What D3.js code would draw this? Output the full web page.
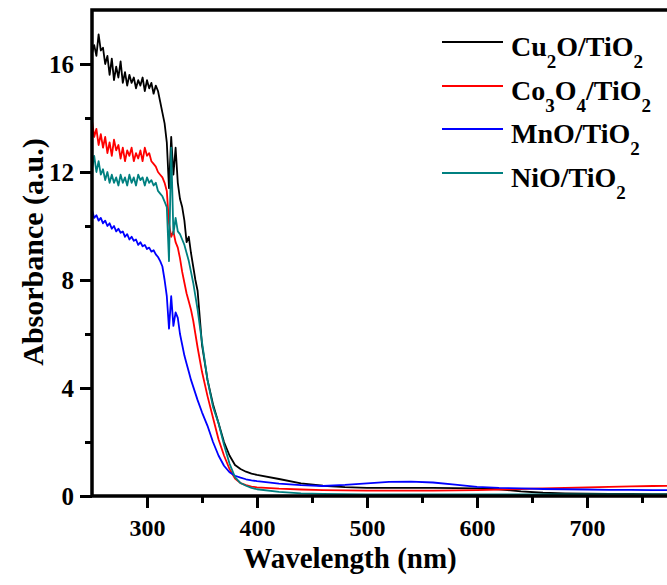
<!DOCTYPE html>
<html>
<head>
<meta charset="utf-8">
<script src="https://cdn.jsdelivr.net/npm/d3@7"></script>
<style>
  body { margin: 0; background: #fff; }
  svg text { font-family: "Liberation Serif", "Times New Roman", serif; font-weight: bold; fill: #000; }
</style>
</head>
<body>
<svg id="chart" width="667" height="585"></svg>
<script>
// wavelength grid (nm), dense in the noisy UV region
const wavelength = [
  250,252,254,256,258,260,262,264,266,268,270,272,274,276,278,280,282,284,286,288,
  290,292,294,296,298,300,302,304,306,308,310,312,314,316,318,320,322,324,326,328,
  330,332,334,336,338,340,342,344,346,
  350,355,360,365,370,375,380,385,390,395,
  400,420,440,460,480,500,520,540,560,580,600,620,640,660,680,700,720,740,760,780,800
];

const cu2o = [
  16.4,16.7,16.3,17.1,16.5,16.6,16.0,16.3,15.6,16.2,15.4,15.9,15.5,16.1,15.3,15.7,15.2,15.6,15.3,15.5,
  15.1,15.4,15.2,15.5,15.0,15.4,15.1,15.3,14.9,15.2,15.0,14.6,14.2,13.8,13.1,11.4,13.3,11.9,12.9,11.6,
  11.0,10.7,10.2,9.4,9.6,9.0,8.5,8.0,7.6,
  5.6,4.3,3.4,2.7,2.0,1.5,1.15,1.0,0.9,0.83,
  0.78,0.63,0.47,0.38,0.33,0.3,0.3,0.3,0.3,0.29,0.28,0.25,0.17,0.12,0.1,0.09,0.08,0.08,0.07,0.07,0.07
];

const co3o4 = [
  13.9,13.3,13.6,13.0,13.4,12.9,13.3,12.7,13.1,12.6,13.2,12.8,13.0,12.5,12.9,12.4,12.8,12.6,12.9,12.4,
  12.7,12.5,12.8,12.4,12.9,12.6,12.7,12.4,12.3,12.2,12.0,11.9,11.8,11.6,11.3,10.1,9.6,9.8,9.4,9.2,
  8.8,8.3,7.9,7.5,7.2,6.9,6.5,6.0,5.5,
  4.6,3.7,2.9,2.1,1.5,1.0,0.65,0.48,0.4,0.35,
  0.32,0.27,0.24,0.22,0.21,0.2,0.2,0.2,0.2,0.21,0.22,0.24,0.26,0.28,0.3,0.32,0.34,0.36,0.37,0.38,0.39
];

const mno = [
  10.6,10.3,10.4,10.2,10.3,10.1,10.2,10.0,10.1,9.9,10.0,9.8,9.9,9.75,9.8,9.6,9.7,9.5,9.6,9.45,
  9.5,9.3,9.4,9.25,9.3,9.15,9.2,9.05,9.1,8.95,8.85,8.7,8.5,8.0,7.4,6.2,7.4,6.3,6.8,6.6,
  6.0,5.6,5.2,4.9,4.6,4.3,4.05,3.8,3.55,
  3.1,2.6,2.0,1.5,1.12,0.88,0.75,0.68,0.62,0.58,
  0.55,0.46,0.4,0.37,0.41,0.47,0.52,0.53,0.5,0.42,0.34,0.3,0.28,0.26,0.25,0.24,0.23,0.23,0.22,0.22,0.22
];

const nio = [
  12.1,12.6,12.0,12.4,11.9,12.1,11.7,12.0,11.6,11.9,11.6,11.8,11.5,11.9,11.6,11.8,11.5,11.9,11.6,11.8,
  11.5,11.9,11.7,11.8,11.5,11.8,11.6,11.7,11.5,11.6,11.3,11.2,11.1,10.9,10.7,8.7,12.9,9.7,10.3,9.8,
  9.7,9.5,9.3,9.0,8.7,8.3,7.9,7.4,6.9,
  5.7,4.3,3.3,2.7,1.9,1.2,0.7,0.48,0.38,0.3,
  0.25,0.15,0.1,0.08,0.07,0.06,0.06,0.06,0.06,0.06,0.06,0.06,0.06,0.06,0.06,0.06,0.06,0.06,0.06,0.06,0.06
];

const seriesNames = ["Cu2O/TiO2", "Co3O4/TiO2", "MnO/TiO2", "NiO/TiO2"];
const seriesColors = ["#000000", "#ff0000", "#0000ff", "#008080"];
const seriesValues = [cu2o, co3o4, mno, nio];

// legend labels split into [text, isSubscript] pieces
const legendParts = [
  [["Cu", 0], ["2", 1], ["O/TiO", 0], ["2", 1]],
  [["Co", 0], ["3", 1], ["O", 0], ["4", 1], ["/TiO", 0], ["2", 1]],
  [["MnO/TiO", 0], ["2", 1]],
  [["NiO/TiO", 0], ["2", 1]]
];

const xMajor = [300, 400, 500, 600, 700];
const xMinor = [350, 450, 550, 650, 750];
const yMajor = [0, 4, 8, 12, 16];
const yMinor = [2, 6, 10, 14];

const svg = d3.select("#chart");

const x = d3.scaleLinear().domain([250, 800]).range([92, 697]);
const y = d3.scaleLinear().domain([0, 18]).range([496, 10]);

// minor ticks
svg.append("g")
   .attr("transform", `translate(0,${y(0)})`)
   .call(d3.axisBottom(x).tickValues(xMinor).tickSize(7).tickFormat(""))
   .call(g => g.select(".domain").remove());
svg.append("g")
   .attr("transform", `translate(${x(250)},0)`)
   .call(d3.axisLeft(y).tickValues(yMinor).tickSize(7).tickFormat(""))
   .call(g => g.select(".domain").remove());

// major ticks
const gx = svg.append("g")
   .attr("transform", `translate(0,${y(0)})`)
   .call(d3.axisBottom(x).tickValues(xMajor).tickSize(12).tickFormat(d3.format("d")))
   .call(g => g.select(".domain").remove());
gx.selectAll("text").attr("y", 40).attr("dy", null).style("font-size", "24px");

const gy = svg.append("g")
   .attr("transform", `translate(${x(250)},0)`)
   .call(d3.axisLeft(y).tickValues(yMajor).tickSize(12).tickFormat(d3.format("d")))
   .call(g => g.select(".domain").remove());
gy.selectAll("text").attr("x", -18).attr("dy", "0.34em").style("font-size", "25px");

svg.selectAll(".tick line").attr("stroke", "#000").attr("stroke-width", 3);

// curves
const line = d3.line()
  .x((d, i) => x(wavelength[i]))
  .y(d => y(d));

seriesValues.forEach((vals, k) => {
  svg.append("path")
     .datum(vals)
     .attr("fill", "none")
     .attr("stroke", seriesColors[k])
     .attr("stroke-width", 1.8)
     .attr("stroke-linejoin", "round")
     .attr("d", line);
});

// frame
svg.append("rect")
   .attr("x", x(250))
   .attr("y", y(18))
   .attr("width", x(800) - x(250))
   .attr("height", y(0) - y(18))
   .attr("fill", "none")
   .attr("stroke", "#000")
   .attr("stroke-width", 3.5);

// legend
const legendY = [42, 86, 129, 173];
const legend = svg.append("g");
seriesNames.forEach((name, k) => {
  legend.append("line")
        .attr("x1", 442).attr("x2", 503)
        .attr("y1", legendY[k]).attr("y2", legendY[k])
        .attr("stroke", seriesColors[k])
        .attr("stroke-width", 1.8);
  const t = legend.append("text")
        .attr("x", 511)
        .attr("y", legendY[k] + 14)
        .style("font-size", "28px");
  legendParts[k].forEach(([txt, sub], j) => {
    const prevSub = j > 0 ? legendParts[k][j - 1][1] : 0;
    const shift = sub && !prevSub ? 12 : (!sub && prevSub ? -12 : 0);
    t.append("tspan")
     .attr("dy", shift)
     .style("font-size", sub ? "19px" : "28px")
     .text(txt);
  });
});

// axis titles
svg.append("text")
   .attr("x", 350)
   .attr("y", 568)
   .attr("text-anchor", "middle")
   .style("font-size", "29px")
   .text("Wavelength (nm)");

svg.append("text")
   .attr("transform", "translate(43,252) rotate(-90)")
   .attr("text-anchor", "middle")
   .style("font-size", "30px")
   .text("Absorbance (a.u.)");
</script>
</body>
</html>
